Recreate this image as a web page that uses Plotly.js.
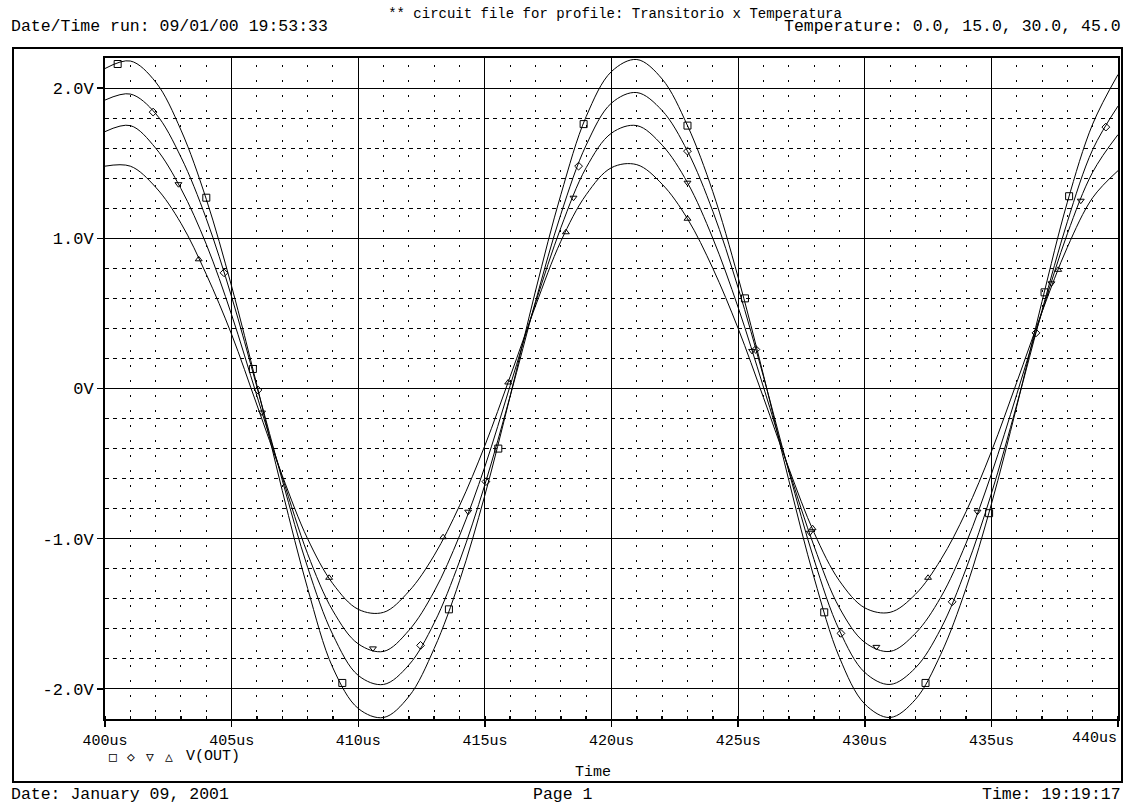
<!DOCTYPE html>
<html>
<head>
<meta charset="utf-8">
<script src="https://cdn.plot.ly/plotly-3.0.1.min.js"></script>
<style>html,body{margin:0;padding:0;background:#fff;}#chart{width:1127px;height:804px;}</style>
</head>
<body>
<div id="chart"></div>
<script>
// Time samples (us)
const time = [400,401,402,403,404,405,406,407,408,409,410,411,412,413,414,415,416,417,418,419,420,
              421,422,423,424,425,426,427,428,429,430,431,432,433,434,435,436,437,438,439,440];
// V(OUT) at temperature 0.0 (largest swing, square markers)
const vT0 = [2.13,2.18,2.04,1.72,1.26,0.68,0.02,-0.68,-1.33,-1.86,-2.13,-2.19,-2.05,-1.73,-1.28,-0.71,-0.05,0.65,1.29,1.81,2.11,
             2.19,2.06,1.75,1.31,0.74,0.09,-0.61,-1.26,-1.79,-2.10,-2.19,-2.07,-1.77,-1.33,-0.77,-0.12,0.58,1.24,1.76,2.09];
// V(OUT) at temperature 15.0 (diamond markers)
const vT15 = [1.92,1.96,1.83,1.54,1.13,0.61,0.01,-0.61,-1.19,-1.64,-1.91,-1.97,-1.84,-1.56,-1.15,-0.64,-0.05,0.58,1.16,1.62,1.90,
              1.97,1.85,1.58,1.18,0.67,0.08,-0.55,-1.14,-1.61,-1.89,-1.97,-1.86,-1.60,-1.20,-0.70,-0.11,0.52,1.11,1.59,1.88];
// V(OUT) at temperature 30.0 (inverted triangle markers)
const vT30 = [1.71,1.75,1.60,1.33,0.96,0.49,-0.05,-0.59,-1.10,-1.48,-1.70,-1.75,-1.61,-1.35,-0.98,-0.52,0.02,0.57,1.07,1.47,1.70,
              1.75,1.62,1.37,1.00,0.54,0.01,-0.54,-1.05,-1.46,-1.69,-1.75,-1.63,-1.39,-1.03,-0.57,-0.04,0.51,1.03,1.44,1.69];
// V(OUT) at temperature 45.0 (triangle markers)
const vT45 = [1.48,1.48,1.34,1.10,0.76,0.36,-0.11,-0.58,-1.00,-1.30,-1.47,-1.49,-1.35,-1.11,-0.78,-0.38,0.08,0.55,0.98,1.29,1.47,
              1.49,1.36,1.13,0.80,0.40,-0.06,-0.53,-0.96,-1.28,-1.46,-1.49,-1.37,-1.14,-0.82,-0.42,0.04,0.51,0.94,1.27,1.45];

// Marker positions
const mkT0 = [400.5,404.0,405.84,409.37,413.58,415.53,418.9,423.0,425.27,428.4,432.4,434.91,437.1,438.07];
const mkV0 = [2.16,1.27,0.13,-1.96,-1.47,-0.40,1.76,1.75,0.60,-1.49,-1.96,-0.83,0.64,1.28];
const mkT15 = [401.9,404.7,406.04,412.46,415.04,418.7,423.0,425.7,429.06,433.45,436.76,439.52];
const mkV15 = [1.84,0.77,-0.01,-1.71,-0.62,1.48,1.58,0.26,-1.63,-1.42,0.37,1.74];
const mkT30 = [402.9,406.2,410.58,414.34,418.5,423.0,425.55,427.83,430.46,434.45,437.37,438.53];
const mkV30 = [1.36,-0.16,-1.73,-0.82,1.27,1.37,0.25,-0.96,-1.72,-0.82,0.70,1.25];
const mkT45 = [403.7,408.85,413.35,415.92,418.2,423.0,427.94,432.5,437.64];
const mkV45 = [0.86,-1.26,-0.99,0.04,1.04,1.13,-0.93,-1.26,0.79];

const xTicks = [400,405,410,415,420,425,430,435,440];
const xTickText = ['400us','405us','410us','415us','420us','425us','430us','435us',''];
const yTicks = [-2,-1,0,1,2];
const yTickText = ['-2.0V','-1.0V','0V','1.0V','2.0V'];

const MONO = 'Liberation Mono, Courier New, monospace';
const SYM = 'DejaVu Sans Mono, DejaVu Sans, monospace';
const lineStyle = {color:'#000', width:1, shape:'spline', smoothing:1};

function curve(y){ return {x:time, y:y, mode:'lines', line:lineStyle, hoverinfo:'skip', showlegend:false}; }
function marks(x,y,sym,sz){ return {x:x, y:y, mode:'markers', marker:{symbol:sym, size:sz, color:'#000', line:{color:'#000', width:1}}, showlegend:false, hoverinfo:'skip'}; }

const data = [
  curve(vT0), curve(vT15), curve(vT30), curve(vT45),
  marks(mkT0, mkV0, 'square-open', 7),
  marks(mkT15, mkV15, 'diamond-open', 6),
  marks(mkT30, mkV30, 'triangle-down-open', 6),
  marks(mkT45, mkV45, 'triangle-up-open', 6)
];

// plot area in pixels: x 105..1118, y 58..719
const L=105, R=1118, T=58, B=719;
const px = v => (v-L)/(R-L);
const py = v => (B-v)/(B-T);

const ann = (text, x, y, xanchor, size, fam) => ({text:text, x:px(x), y:py(y), xref:'paper', yref:'paper',
  xanchor:xanchor, yanchor:'middle', showarrow:false, font:{family:fam||MONO, size:size||14, color:'#000'}});

const layout = {
  width:1127, height:804,
  margin:{l:L, r:1127-R, t:T, b:804-B, pad:0},
  paper_bgcolor:'#fff', plot_bgcolor:'#fff',
  showlegend:false,
  title:{text:'** circuit file for profile: Transitorio x Temperatura', x:615/1127, xanchor:'center', y:1-13/804, yanchor:'middle',
         font:{family:MONO, size:14, color:'#000'}},
  xaxis:{range:[400,440], tickvals:xTicks, ticktext:xTickText, ticks:'outside', ticklen:6, tickwidth:1.5, tickcolor:'#000',
         showline:true, linecolor:'#000', linewidth:2, mirror:true, showgrid:true, gridcolor:'#000', gridwidth:1, zeroline:false,
         tickfont:{family:MONO, size:15, color:'#000'},
         minor:{dtick:1, tick0:400, showgrid:true, gridcolor:'#000', gridwidth:1, griddash:'0px,7px,2px,6px', ticks:'inside', ticklen:3, tickcolor:'#000'}},
  yaxis:{range:[-2.2,2.2], tickvals:yTicks, ticktext:yTickText, ticks:'outside', ticklen:6, tickwidth:1.5, tickcolor:'#000',
         showline:true, linecolor:'#000', linewidth:2, mirror:true, showgrid:true, gridcolor:'#000', gridwidth:1, zeroline:false,
         tickfont:{family:MONO, size:17, color:'#000'},
         minor:{dtick:0.2, tick0:0, showgrid:true, gridcolor:'#000', gridwidth:1, griddash:'4px,4.44px'}},
  shapes:[{type:'rect', xref:'paper', yref:'paper', x0:px(13), x1:px(1122), y0:py(782), y1:py(48), line:{color:'#000', width:2}, fillcolor:'rgba(0,0,0,0)', layer:'above'}],
  annotations:[
    ann('Date/Time run: 09/01/00 19:53:33', 9, 27, 'left', 16.5),
    ann('Temperature: 0.0, 15.0, 30.0, 45.0', 1123, 27, 'right', 16.5),
    ann('440us', 1119, 738, 'right', 15),
    ann('\u25A1', 113, 757, 'center', 13, SYM),
    ann('\u25C7', 131, 757, 'center', 13, SYM),
    ann('\u25BD', 150, 757, 'center', 13, SYM),
    ann('\u25B3', 169, 757, 'center', 13, SYM),
    ann('V(OUT)', 184, 757, 'left', 15),
    ann('Time', 593, 773, 'center', 15),
    ann('Date: January 09, 2001', 9, 794, 'left', 16.5),
    ann('Page 1', 563, 794, 'center', 16.5),
    ann('Time: 19:19:17', 1123, 794, 'right', 16.5)
  ]
};

Plotly.newPlot('chart', data, layout, {staticPlot:true, displayModeBar:false});
</script>
</body>
</html>
